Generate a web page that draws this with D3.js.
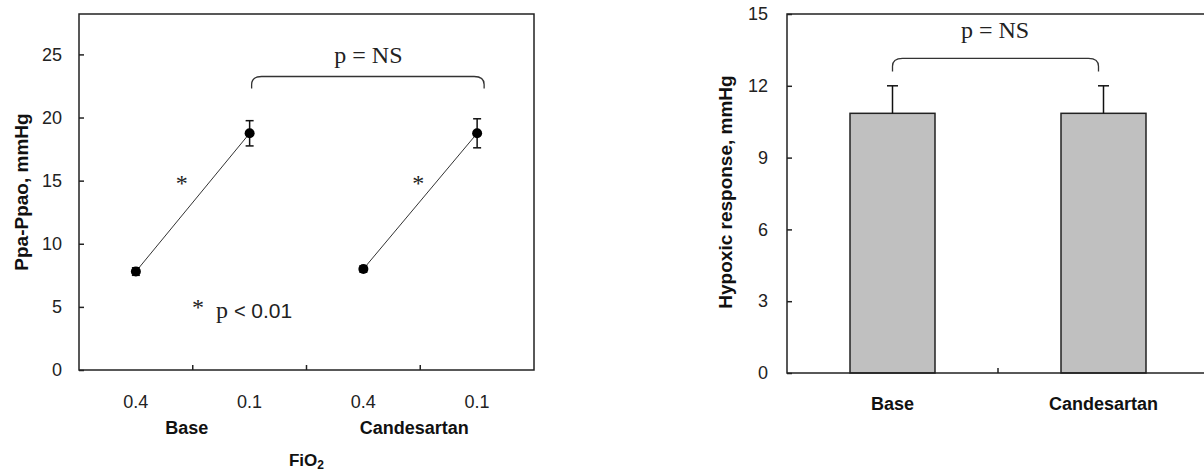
<!DOCTYPE html>
<html>
<head>
<meta charset="utf-8">
<script src="https://cdn.jsdelivr.net/npm/d3@7"></script>
<style>
body { margin: 0; background: #fff; }
svg text { font-family: "Liberation Sans", Arial, sans-serif; }
.serif { font-family: "Liberation Serif", "Times New Roman", serif; }
</style>
</head>
<body>
<div id="chart"></div>
<script>
// left panel: Ppa-Ppao at two FiO2 levels
const conditions = ["Base", "Candesartan"];
const fio2 = ["0.4", "0.1"];
const pressureMean = [7.8, 18.75, 8.0, 18.75];
const pressureErr = [0.3, 1.0, 0.25, 1.15];
const leftTicks = [0, 5, 10, 15, 20, 25];

// right panel: hypoxic response
const responseMean = [10.85, 10.85];
const responseErr = [1.15, 1.15];
const rightTicks = [0, 3, 6, 9, 12, 15];

const width = 1204;
const height = 474;

const svg = d3.select("#chart").append("svg")
    .attr("width", width)
    .attr("height", height);

// ---------- left panel ----------
const keys = conditions.flatMap(c => fio2.map(f => c + "|" + f));
const points = keys.map((k, i) => ({
    key: k, cond: k.split("|")[0], fio2: k.split("|")[1],
    mean: pressureMean[i], err: pressureErr[i]
}));

const x1 = d3.scaleBand().domain(keys).range([79, 534]);
const y1 = d3.scaleLinear().domain([0, 28.2]).range([370, 14]);

const left = svg.append("g");

left.append("rect")
    .attr("x", 79).attr("y", 14)
    .attr("width", 455).attr("height", 356)
    .attr("fill", "none").attr("stroke", "#222").attr("stroke-width", 1.5);

const yAxis1 = left.append("g")
    .attr("transform", "translate(79,0)")
    .call(d3.axisLeft(y1).tickValues(leftTicks).tickSize(-5).tickPadding(17));
yAxis1.select(".domain").remove();
yAxis1.selectAll("line").attr("stroke", "#222").attr("stroke-width", 1.5);
yAxis1.selectAll("text").attr("font-size", 18).attr("fill", "#222");

// inward ticks at the band boundaries
left.selectAll(".xtick")
    .data(keys.slice(1))
    .join("line")
    .attr("x1", d => x1(d)).attr("x2", d => x1(d))
    .attr("y1", 370).attr("y2", 365)
    .attr("stroke", "#222").attr("stroke-width", 1.5);

left.selectAll(".fio2")
    .data(points)
    .join("text")
    .attr("x", d => x1(d.key) + x1.bandwidth() / 2)
    .attr("y", 408)
    .attr("text-anchor", "middle")
    .attr("font-size", 18).attr("fill", "#222")
    .text(d => d.fio2);

left.selectAll(".cond")
    .data(conditions)
    .join("text")
    .attr("x", c => x1(c + "|0.4") + x1.bandwidth() - 6)
    .attr("y", 434)
    .attr("text-anchor", "middle")
    .attr("font-size", 18).attr("font-weight", "bold").attr("fill", "#111")
    .text(c => c);

const fioLabel = left.append("text")
    .attr("x", x1("Base|0.1") + x1.bandwidth())
    .attr("y", 466)
    .attr("text-anchor", "middle")
    .attr("font-size", 17).attr("font-weight", "bold").attr("fill", "#111");
fioLabel.append("tspan").text("FiO");
fioLabel.append("tspan").attr("font-size", 12).attr("dy", 3).text("2");

left.append("text")
    .attr("transform", "translate(28,192) rotate(-90)")
    .attr("text-anchor", "middle")
    .attr("font-size", 19).attr("font-weight", "bold").attr("fill", "#111")
    .text("Ppa-Ppao, mmHg");

const cx = d => x1(d.key) + x1.bandwidth() / 2;

left.selectAll(".link")
    .data(conditions)
    .join("line")
    .attr("x1", c => cx(points.find(p => p.key === c + "|0.4")))
    .attr("y1", c => y1(points.find(p => p.key === c + "|0.4").mean))
    .attr("x2", c => cx(points.find(p => p.key === c + "|0.1")))
    .attr("y2", c => y1(points.find(p => p.key === c + "|0.1").mean))
    .attr("stroke", "#333").attr("stroke-width", 1);

const eb = left.selectAll(".eb").data(points).join("g");
eb.append("line")
    .attr("x1", cx).attr("x2", cx)
    .attr("y1", d => y1(d.mean - d.err)).attr("y2", d => y1(d.mean + d.err))
    .attr("stroke", "#111").attr("stroke-width", 1.5);
eb.selectAll(".cap")
    .data(d => [d.mean - d.err, d.mean + d.err].map(v => ({ d, v })))
    .join("line")
    .attr("x1", e => cx(e.d) - 4).attr("x2", e => cx(e.d) + 4)
    .attr("y1", e => y1(e.v)).attr("y2", e => y1(e.v))
    .attr("stroke", "#111").attr("stroke-width", 1.5);
eb.append("circle")
    .attr("cx", cx).attr("cy", d => y1(d.mean))
    .attr("r", 5).attr("fill", "#000");

// significance marks
left.selectAll(".star")
    .data(conditions)
    .join("text")
    .attr("class", "serif")
    .attr("x", c => x1(c + "|0.4") + x1.bandwidth() + (c === "Base" ? -11 : -2))
    .attr("y", y1(14.2))
    .attr("text-anchor", "middle")
    .attr("font-size", 24).attr("fill", "#222")
    .text("*");

const note = left.append("text")
    .attr("x", 192).attr("y", y1(4.1))
    .attr("fill", "#222")
    .attr("xml:space", "preserve");
note.append("tspan").attr("class", "serif").attr("font-size", 24).attr("dy", -3).text("*");
note.append("tspan").attr("class", "serif").attr("font-size", 24).attr("dy", 3).text("  p ");
note.append("tspan").attr("font-size", 20).text("< ");
note.append("tspan").attr("font-size", 21).text("0.01");

function bracket(g, xa, xb, yTop, yEnd) {
    const r = 8;
    g.append("path")
        .attr("d", `M${xa},${yEnd} L${xa},${yTop + r} Q${xa},${yTop} ${xa + r + 2},${yTop}
                    L${xb - r - 2},${yTop} Q${xb},${yTop} ${xb},${yTop + r} L${xb},${yEnd}`)
        .attr("fill", "none").attr("stroke", "#333").attr("stroke-width", 1.3);
}

bracket(left, cx(points[1]) + 2, cx(points[3]) + 7, y1(23.25), y1(22.3));
left.append("text")
    .attr("class", "serif")
    .attr("x", (cx(points[1]) + cx(points[3])) / 2 + 5)
    .attr("y", y1(24.3))
    .attr("text-anchor", "middle")
    .attr("font-size", 24).attr("fill", "#222")
    .text("p = NS");

// ---------- right panel ----------
const x2 = d3.scaleBand().domain(conditions).range([787, 1209]).paddingInner(0).paddingOuter(0);
const y2 = d3.scaleLinear().domain([0, 15]).range([373, 14]);
const barW = 85;

const right = svg.append("g");

right.selectAll(".bar")
    .data(conditions)
    .join("rect")
    .attr("x", (c, i) => x2(c) + x2.bandwidth() / 2 - barW / 2)
    .attr("y", (c, i) => y2(responseMean[i]))
    .attr("width", barW)
    .attr("height", (c, i) => y2(0) - y2(responseMean[i]))
    .attr("fill", "#c0c0c0").attr("stroke", "#222").attr("stroke-width", 1.5);

right.append("rect")
    .attr("x", 787).attr("y", 14)
    .attr("width", 422).attr("height", 359)
    .attr("fill", "none").attr("stroke", "#222").attr("stroke-width", 1.5);

const yAxis2 = right.append("g")
    .attr("transform", "translate(787,0)")
    .call(d3.axisLeft(y2).tickValues(rightTicks).tickSize(-5).tickPadding(19));
yAxis2.select(".domain").remove();
yAxis2.selectAll("line").attr("stroke", "#222").attr("stroke-width", 1.5);
yAxis2.selectAll("text").attr("font-size", 18).attr("fill", "#222");

right.append("line")
    .attr("x1", x2("Candesartan")).attr("x2", x2("Candesartan"))
    .attr("y1", 373).attr("y2", 368)
    .attr("stroke", "#222").attr("stroke-width", 1.5);

const bx = c => x2(c) + x2.bandwidth() / 2;

right.selectAll(".err")
    .data(conditions)
    .join("line")
    .attr("x1", bx).attr("x2", bx)
    .attr("y1", (c, i) => y2(responseMean[i]))
    .attr("y2", (c, i) => y2(responseMean[i] + responseErr[i]))
    .attr("stroke", "#111").attr("stroke-width", 1.5);
right.selectAll(".cap2")
    .data(conditions)
    .join("line")
    .attr("x1", c => bx(c) - 5.5).attr("x2", c => bx(c) + 5.5)
    .attr("y1", (c, i) => y2(responseMean[i] + responseErr[i]))
    .attr("y2", (c, i) => y2(responseMean[i] + responseErr[i]))
    .attr("stroke", "#111").attr("stroke-width", 1.5);

right.selectAll(".cat")
    .data(conditions)
    .join("text")
    .attr("x", bx).attr("y", 410)
    .attr("text-anchor", "middle")
    .attr("font-size", 18).attr("font-weight", "bold").attr("fill", "#111")
    .text(c => c);

right.append("text")
    .attr("transform", "translate(732,192) rotate(-90)")
    .attr("text-anchor", "middle")
    .attr("font-size", 19).attr("font-weight", "bold").attr("fill", "#111")
    .text("Hypoxic response, mmHg");

bracket(right, bx("Base"), bx("Candesartan") - 5, y2(13.15), y2(12.6));
right.append("text")
    .attr("class", "serif")
    .attr("x", (bx("Base") + bx("Candesartan")) / 2 - 3)
    .attr("y", y2(14.0))
    .attr("text-anchor", "middle")
    .attr("font-size", 24).attr("fill", "#222")
    .text("p = NS");
</script>
</body>
</html>
